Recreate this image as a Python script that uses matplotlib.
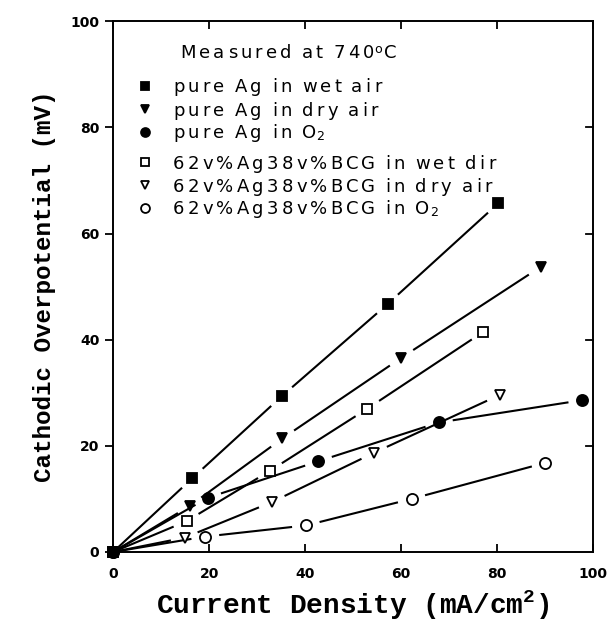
import re
import numpy as np
import matplotlib
matplotlib.use("Agg")
import matplotlib.pyplot as plt
from matplotlib.font_manager import FontProperties
from matplotlib.transforms import offset_copy

# current density (mA/cm2) and cathodic overpotential (mV)
ag_wet_x = [0, 16.5, 35.1, 57.2, 80.3]
ag_wet_y = [0, 13.9, 29.3, 46.7, 65.7]
ag_dry_x = [0, 16.0, 35.3, 60.1, 89.1]
ag_dry_y = [0, 8.7, 21.4, 36.6, 53.7]
ag_o2_x = [0, 19.7, 42.8, 67.9, 97.8]
ag_o2_y = [0, 10.2, 17.1, 24.4, 28.6]
bcg_wet_x = [0, 15.3, 32.7, 53.0, 77.2]
bcg_wet_y = [0, 5.8, 15.3, 27.0, 41.5]
bcg_dry_x = [0, 14.9, 33.1, 54.4, 80.6]
bcg_dry_y = [0, 2.7, 9.4, 18.7, 29.6]
bcg_o2_x = [0, 19.2, 40.2, 62.2, 90.1]
bcg_o2_y = [0, 2.9, 5.0, 10.0, 16.8]

title = r"Measured at 740$^\mathregular{o}$C"
labels = ["pure Ag in wet air", "pure Ag in dry air", r"pure Ag in O$_\mathregular{2}$",
          "62v%Ag38v%BCG in wet dir", "62v%Ag38v%BCG in dry air",
          r"62v%Ag38v%BCG in O$_\mathregular{2}$"]
xticks = [0, 20, 40, 60, 80, 100]
yticks = [0, 20, 40, 60, 80, 100]

series = [
    (ag_wet_x, ag_wet_y, "s", True, 7),
    (ag_dry_x, ag_dry_y, "v", True, 7),
    (ag_o2_x, ag_o2_y, "o", True, 8),
    (bcg_wet_x, bcg_wet_y, "s", False, 6.5),
    (bcg_dry_x, bcg_dry_y, "v", False, 7.5),
    (bcg_o2_x, bcg_o2_y, "o", False, 8),
]

fig = plt.figure(figsize=(6.15, 6.23), dpi=100)
ax = fig.add_axes([0.184, 0.114, 0.78, 0.852])
ax.set_xlim(0, 100)
ax.set_ylim(0, 100)

tick_font = dict(family="DejaVu Sans", weight="bold", size=10)
ax.set_xticks(xticks)
ax.set_yticks(yticks)
ax.set_xticklabels([str(t) for t in xticks], **tick_font)
ax.set_yticklabels([str(t) for t in yticks], **tick_font)
ax.tick_params(axis="x", direction="in", length=6, width=1.3, pad=11, top=True)
ax.tick_params(axis="y", direction="out", length=6, width=1.3, pad=4)
for t in yticks[1:-1]:
    ax.plot([100, 98.6], [t, t], color="black", lw=1.3, clip_on=False)
for s in ax.spines.values():
    s.set_linewidth(1.4)


def gapped(xs, ys, gap=14):
    # straight pieces between points, stopping short of the markers
    pts = ax.transData.transform(np.column_stack([xs, ys]))
    inv = ax.transData.inverted()
    for i in range(len(pts) - 1):
        p0, p1 = pts[i], pts[i + 1]
        u = (p1 - p0) / np.hypot(*(p1 - p0))
        g0 = 0 if i == 0 else gap
        a = inv.transform(p0 + u * g0)
        b = inv.transform(p1 - u * gap)
        ax.plot([a[0], b[0]], [a[1], b[1]], color="black", lw=1.5,
                solid_capstyle="butt", clip_on=False)


for xs, ys, m, filled, ms in series:
    gapped(xs, ys)
for xs, ys, m, filled, ms in series[::-1]:
    ax.plot(xs, ys, ls="none", marker=m, ms=ms,
            mfc="black" if filled else "white", mec="black", mew=1.3,
            clip_on=False, zorder=4 if filled else 3)

# legend text is widely tracked in the original, so lay it out glyph by glyph
renderer = fig.canvas.get_renderer()
leg_prop = FontProperties(family="DejaVu Sans", size=13)


def tracked(x, y, s, track=3.2):
    toks = re.findall(r"\$[^$]*\$|.", s)
    dx = 0.0
    for i, tok in enumerate(toks):
        math = tok.startswith("$")
        if tok == " ":
            w = leg_prop.get_size_in_points() * 0.30
        else:
            w, h, d = renderer.get_text_width_height_descent(tok, leg_prop, ismath=math)
        tr = offset_copy(ax.transData, fig=fig, x=dx, y=0, units="dots")
        ax.text(x, y, tok, transform=tr, fontproperties=leg_prop, va="baseline")
        nxt_math = i + 1 < len(toks) and toks[i + 1].startswith("$")
        dx += w + (0.5 if (math or nxt_math) else track)


tracked(14.0, 93.0, title)
rows_y = [87.8, 83.4, 79.1, 73.4, 69.1, 64.8]
for (xs, ys, m, filled, ms), lab, ry in zip(series, labels, rows_y):
    ax.plot([6.7], [ry], ls="none", marker=m, ms=ms * 0.8,
            mfc="black" if filled else "white", mec="black", mew=1.3)
    tracked(12.5, ry - 1.2, lab)

ax.set_xlabel("Current Density (mA/cm$^\\mathregular{2}$)", labelpad=5,
              family="Liberation Mono", weight="bold", size=20)
ax.set_ylabel("Cathodic Overpotential (mV)", labelpad=10,
              family="Liberation Mono", weight="bold", size=17.5)

fig.savefig("out.png", dpi=100)
